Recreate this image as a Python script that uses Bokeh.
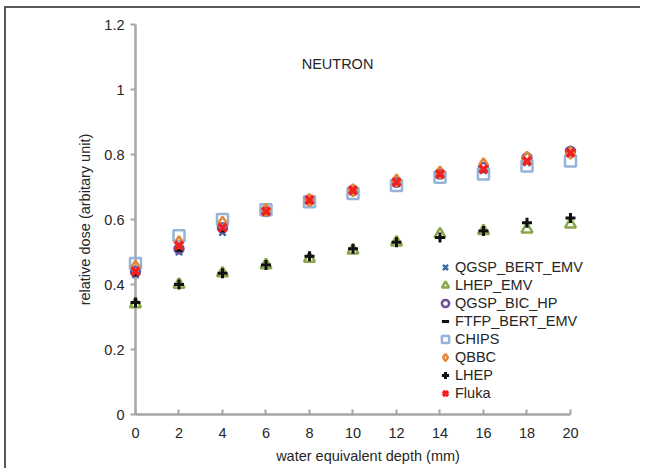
from bokeh.plotting import figure
from bokeh.models import Range1d, FixedTicker, Label, Legend, LegendItem
from bokeh.embed import file_html
from bokeh.resources import INLINE

depth = [0, 2, 4, 6, 8, 10, 12, 14, 16, 18, 20]
qgsp_bert_emv = [0.43, 0.50, 0.56, 0.62, 0.655, 0.685, 0.71, 0.735, 0.75, 0.775, 0.805]
lhep_emv      = [0.34, 0.40, 0.435, 0.46, 0.48, 0.505, 0.53, 0.555, 0.565, 0.57, 0.585]
qgsp_bic_hp   = [0.44, 0.51, 0.575, 0.625, 0.66, 0.69, 0.715, 0.74, 0.76, 0.79, 0.81]
ftfp_bert_emv = [0.43, 0.505, 0.565, 0.62, 0.655, 0.685, 0.71, 0.735, 0.75, 0.78, 0.80]
chips         = [0.465, 0.55, 0.60, 0.63, 0.655, 0.68, 0.705, 0.73, 0.74, 0.765, 0.78]
qbbc          = [0.455, 0.53, 0.59, 0.63, 0.66, 0.69, 0.72, 0.745, 0.77, 0.79, 0.805]
lhep          = [0.345, 0.40, 0.435, 0.46, 0.487, 0.51, 0.53, 0.545, 0.565, 0.59, 0.605]
fluka         = [0.44, 0.52, 0.575, 0.625, 0.66, 0.69, 0.715, 0.74, 0.755, 0.78, 0.805]

x_ticks = [0, 2, 4, 6, 8, 10, 12, 14, 16, 18, 20]
y_ticks = [0, 0.2, 0.4, 0.6, 0.8, 1.0, 1.2]
y_tick_labels = ["0", "0.2", "0.4", "0.6", "0.8", "1", "1.2"]

FONT = "Liberation Sans"
FS = "14.5px"
TXT = "#262626"
AXC = "#a6a6a6"

p = figure(width=636, height=462, output_backend="svg", toolbar_location=None,
           x_range=Range1d(0, 21.38), y_range=Range1d(0, 1.2),
           min_border_left=129, min_border_right=42, min_border_top=16, min_border_bottom=56,
           styles={"border-top": "2px solid #595959", "border-left": "2px solid #595959",
                   "margin-left": "4px", "margin-top": "6px"})
p.outline_line_color = None
p.grid.visible = False
p.background_fill_color = "white"
p.border_fill_color = "white"

p.xaxis.ticker = FixedTicker(ticks=x_ticks)
p.yaxis.ticker = FixedTicker(ticks=y_ticks)
p.xaxis.bounds = (x_ticks[0], x_ticks[-1])
p.yaxis.major_label_overrides = {t: l for t, l in zip(y_ticks, y_tick_labels)}
for ax in (p.xaxis, p.yaxis):
    ax.axis_line_color = AXC
    ax.axis_line_width = 2.5
    ax.major_tick_line_color = AXC
    ax.major_tick_line_width = 2
    ax.minor_tick_line_color = None
    ax.major_label_text_font = FONT
    ax.major_label_text_font_size = FS
    ax.major_label_text_color = TXT
    ax.axis_label_text_font = FONT
    ax.axis_label_text_font_size = FS
    ax.axis_label_text_font_style = "normal"
    ax.axis_label_text_color = TXT
p.xaxis.major_tick_in = 5
p.xaxis.major_tick_out = 0
p.yaxis.major_tick_in = 0
p.yaxis.major_tick_out = 5
p.xaxis.major_label_standoff = 13
p.yaxis.major_label_standoff = 6
p.xaxis.axis_label = "water equivalent depth (mm)"
p.yaxis.axis_label = "relative dose (arbitary unit)"
p.xaxis.axis_label_standoff = 7
p.yaxis.axis_label_standoff = 8

series = [
    ("QGSP_BERT_EMV", qgsp_bert_emv, "x", "#3a6ea5", 9, 2.5),
    ("LHEP_EMV", lhep_emv, "triangle", "#8aa84a", 11, 2.5),
    ("QGSP_BIC_HP", qgsp_bic_hp, "circle", "#6b4f9a", 9, 2.5),
    ("FTFP_BERT_EMV", ftfp_bert_emv, "dash", "#111111", 7, 3),
    ("CHIPS", chips, "square", "#95b3d7", 11, 2.5),
    ("QBBC", qbbc, "diamond", "#e3883a", 12, 2.5),
    ("LHEP", lhep, "cross", "#111111", 10, 3),
    ("Fluka", fluka, "x", "#f02020", 11, 3.5),
]

items = []
for name, vals, marker, color, size, lw in series:
    r = p.scatter(depth, vals, marker=marker, size=size, line_color=color,
                  line_width=lw, fill_color=None, level="overlay")
    items.append(LegendItem(label=name, renderers=[r]))

legend = Legend(items=items, location=(301, 12), orientation="vertical",
                label_text_font=FONT, label_text_font_size=FS, label_text_color=TXT,
                glyph_width=18, glyph_height=18, label_height=14, spacing=0,
                label_standoff=1, padding=0, margin=0,
                border_line_color=None, background_fill_alpha=0)
p.add_layout(legend, "center")

title = Label(x=202, y=351, x_units="screen", y_units="screen", text="NEUTRON",
              text_font=FONT, text_font_size=FS, text_color=TXT,
              text_align="center", text_baseline="middle")
p.add_layout(title)

open("out.html", "w").write(file_html(p, INLINE))
